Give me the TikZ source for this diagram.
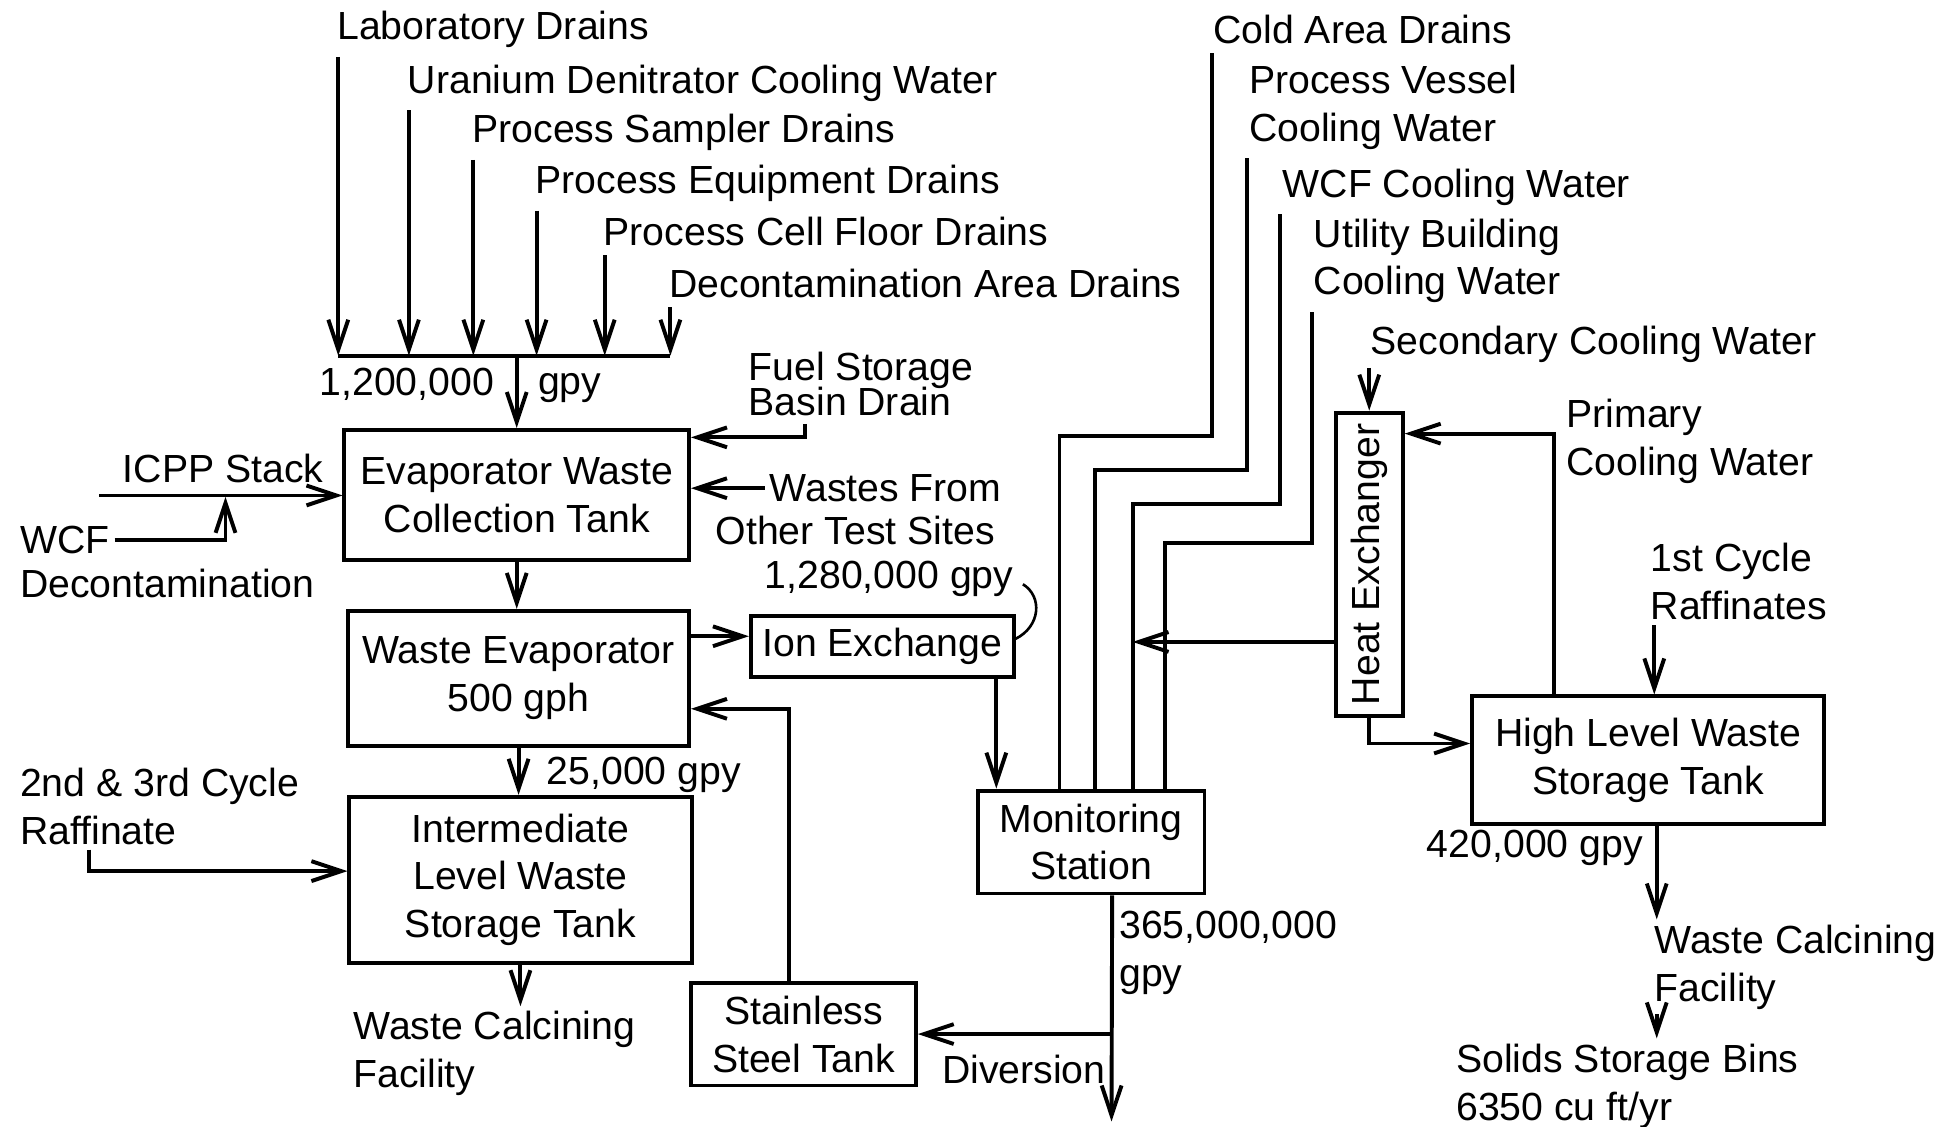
\documentclass[tikz,border=0pt]{standalone}
\usepackage{fontspec}
\setmainfont{Liberation Sans}
\usetikzlibrary{arrows.meta, positioning}

\tikzset{
  box/.style={draw, line width=0.9pt, align=center, inner sep=2pt},
  lbl/.style={anchor=west, align=left, inner sep=1pt},
  flow/.style={line width=0.9pt, -{Straight Barb[length=2.4mm, width=1.6mm]}},
  pipe/.style={line width=0.9pt}
}

\begin{document}
\begin{tikzpicture}[x=0.01cm, y=-0.01cm, font=\fontsize{9}{11}\selectfont]
  \useasboundingbox (0, 0) rectangle (1568, 909);

  % drains
  \coordinate (join) at (0, 287);
  \foreach \n/\x/\y/\t in {lab/268/24/Laboratory Drains,
      ura/325/67/Uranium Denitrator Cooling Water,
      smp/377/107/Process Sampler Drains,
      eqp/428/148/Process Equipment Drains,
      cel/483/187/Process Cell Floor Drains,
      dec/536/229/Decontamination Area Drains} {
    \node[lbl] (\n) at (\x, \y) {\t};
    \coordinate (t\n) at ([xshift=0.05cm, yshift=-0.03cm]\n.south west);
    \draw[flow] (t\n) -- (t\n |- join);
  };
  \draw[pipe] (tlab |- join) -- (tdec |- join);

  % tanks
  \node[box, minimum width=2.78cm, minimum height=1.05cm] (ewct) at (417, 399.5)
    {Evaporator Waste\\Collection Tank};
  \node[box, minimum width=2.75cm, minimum height=1.09cm] (evap) at (418.5, 547.5)
    {Waste Evaporator\\500 gph};
  \node[box, minimum width=2.76cm, minimum height=1.34cm] (ilwst) at (420, 710)
    {Intermediate\\Level Waste\\Storage Tank};
  \node[box, minimum width=2.12cm, minimum height=0.49cm] (ionx) at (712, 521.5)
    {Ion Exchange};
  \node[box, minimum width=1.81cm, minimum height=0.83cm] (sst) at (648.5, 834.5)
    {Stainless\\Steel Tank};
  \node[box, minimum width=1.83cm, minimum height=0.83cm] (mon) at (880.5, 679.5)
    {Monitoring\\Station};
  \node[box, minimum width=0.54cm, minimum height=2.45cm,
        label={[rotate=90]center:Heat Exchanger}] (hx) at (1105, 455.5) {};
  \node[box, minimum width=2.84cm, minimum height=1.03cm] (hlwst) at (1330, 613.5)
    {High Level Waste\\Storage Tank};

  % labels
  \node[lbl, anchor=east] (n12) at (403, 310) {1,200,000};
  \node[lbl] (gpy1) at (430, 313) {gpy};
  \node[lbl] (fsb) at (600, 310) {Fuel Storage\\[-3pt]Basin Drain};
  \node[lbl] (icpp) at (95, 378) {ICPP Stack};
  \node[lbl] (wcf) at (12, 436) {WCF};
  \node[lbl] (dcn) at (12, 471) {Decontamination};
  \node[lbl] (wfr) at (617, 394) {Wastes From};
  \node[lbl, anchor=east] (ots) at (807, 428) {Other Test Sites};
  \node[lbl, anchor=east] (r128) at (822, 467) {1,280,000 gpy};
  \node[lbl] (cy23) at (12, 650.5) {2nd \& 3rd Cycle\\Raffinate};
  \node[lbl] (g25) at (437, 625) {25,000 gpy};
  \node[lbl, anchor=north west] (wcl) at (281, 812) {Waste Calcining\\Facility};
  \node[lbl] (div) at (756, 863) {Diversion};
  \node[lbl, anchor=north west] (m365) at (899, 731) {365,000,000\\gpy};
  \node[lbl] (cold) at (975, 24) {Cold Area Drains};
  \node[lbl] (pvc) at (1004, 86.5) {Process Vessel\\Cooling Water};
  \node[lbl] (wcfc) at (1031, 151) {WCF Cooling Water};
  \node[lbl] (ubc) at (1056, 210.5) {Utility Building\\Cooling Water};
  \node[lbl] (sec) at (1102, 278) {Secondary Cooling Water};
  \node[lbl] (pcw) at (1260, 356) {Primary\\Cooling Water};
  \node[lbl] (c1) at (1328, 469.5) {1st Cycle\\Raffinates};
  \node[lbl, anchor=east] (r420) at (1330, 684) {420,000 gpy};
  \node[lbl, anchor=north west] (wcr) at (1331, 742) {Waste Calcining\\Facility};
  \node[lbl, anchor=north west] (bins) at (1171, 838) {Solids Storage Bins\\6350 cu ft/yr};

  % left side
  \draw[flow] (ewct.north |- join) -- (ewct.north);
  \coordinate (ic) at ([xshift=-0.15cm, yshift=-0.06cm]icpp.south west);
  \coordinate (wj) at (182, 401);
  \draw[flow] (ic) -- (ic -| ewct.west);
  \draw[flow] (wcf.east) -| (wj);
  \coordinate (fs) at (650, 342);
  \draw[flow] (fs) |- ([yshift=0.465cm]ewct.east);
  \draw[flow] (wfr.west) -- (wfr.west -| ewct.east);
  \draw[flow] (ewct.south) -- (ewct.south |- evap.north);
  \coordinate (eo) at ([yshift=0.34cm]evap.east);
  \draw[flow] (eo) -- (eo -| ionx.west);
  \draw[line width=0.6pt] ([xshift=1pt, yshift=4pt]r128.south east)
    .. controls +(0.16cm, -0.1cm) and +(0.2cm, 0.1cm) .. ([yshift=0.06cm]ionx.east);
  \draw[flow] (evap.south) -- (evap.south |- ilwst.north);
  \coordinate (c23) at ([xshift=0.6cm]cy23.south west);
  \draw[flow] (c23) |- ([yshift=0.07cm]ilwst.west);
  \draw[flow] (ilwst.south) -- (ilwst.south |- wcl.north);

  % monitoring
  \coordinate (ixo) at ([xshift=0.92cm]ionx.south);
  \draw[flow] (ixo) -- (ixo |- mon.north);
  \coordinate (k1) at (855, 352);
  \coordinate (k2) at (884, 379);
  \coordinate (k3) at (914, 407);
  \coordinate (k4) at (940, 438);
  \coordinate (tcold) at ([xshift=0.03cm, yshift=-0.03cm]cold.south west);
  \coordinate (tpvc) at ([xshift=0.02cm, yshift=-0.03cm]pvc.south west);
  \coordinate (twcfc) at ([xshift=0.02cm, yshift=-0.03cm]wcfc.south west);
  \coordinate (tubc) at ([xshift=0.03cm, yshift=-0.03cm]ubc.south west);
  \draw[pipe] (tcold) |- (k1) -- (k1 |- mon.north);
  \draw[pipe] (tpvc) |- (k2) -- (k2 |- mon.north);
  \draw[pipe] (twcfc) |- (k3) -- (k3 |- mon.north);
  \draw[pipe] (tubc) |- (k4) -- (k4 |- mon.north);
  \coordinate (mo) at ([xshift=0.17cm]mon.south);
  \coordinate (out) at (897, 905);
  \draw[flow] (mo) -- (out);
  \draw[flow] (mo |- sst.east) -- (sst.east);
  \coordinate (sr) at ([xshift=-0.12cm]sst.north);
  \draw[flow] (sr) |- ([yshift=-0.245cm]evap.east);

  % heat exchanger
  \coordinate (sc) at ([xshift=0.03cm]sec.south west);
  \draw[flow] (sc) -- (sc |- hx.north);
  \coordinate (pr) at ([xshift=-0.76cm]hlwst.north);
  \draw[flow] (pr) |- ([yshift=1.055cm]hx.east);
  \coordinate (hxw) at ([yshift=-0.625cm]hx.west);
  \draw[flow] (hxw) -- (hxw -| k3);
  \draw[flow] (hx.south) |- ([yshift=0.135cm]hlwst.west);
  \coordinate (fc) at ([xshift=0.07cm]c1.south west);
  \draw[flow] (fc) -- (fc |- hlwst.north);
  \coordinate (ho) at ([xshift=0.07cm]hlwst.south);
  \draw[flow] (ho) -- (ho |- wcr.north);
  \draw[flow] (ho |- wcr.south) -- (ho |- bins.north);

\end{tikzpicture}
\end{document}
